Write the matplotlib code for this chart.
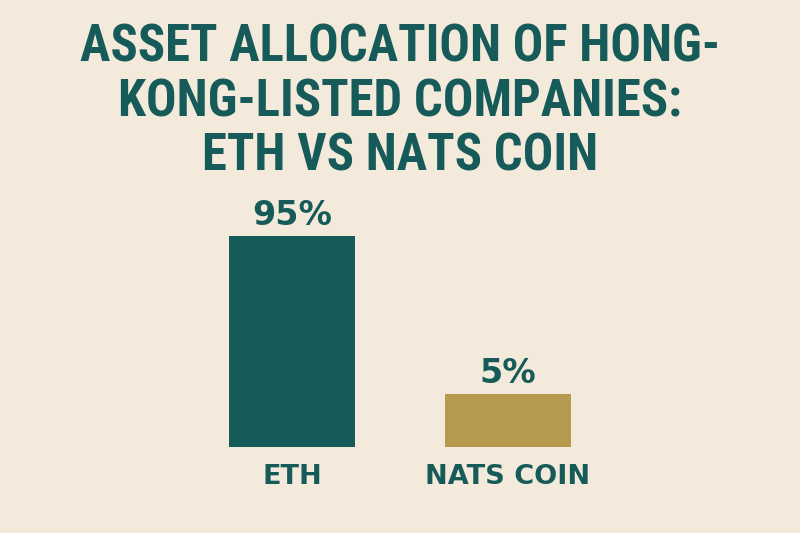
import matplotlib
matplotlib.use("Agg")
import matplotlib.pyplot as plt

# data
assets = ["ETH", "NATS COIN"]
shares = [95, 5]
labels = ["95%", "5%"]
colors = ["#165b59", "#b59a4f"]
title = "ASSET ALLOCATION OF HONG-\nKONG-LISTED COMPANIES:\nETH VS NATS COIN"

bg = "#f4eadb"
teal = "#165b59"
base = 1.86  # log axis floor, keeps the bar proportions of the original

fig = plt.figure(figsize=(8, 5.33), dpi=100, facecolor=bg)
ax = fig.add_axes([0, 86 / 533, 1, 211 / 533])
ax.set_facecolor(bg)
ax.set_yscale("log")

x = list(range(len(assets)))
bars = ax.bar(x, [s - base for s in shares], bottom=base, width=0.58, color=colors)
ax.set_ylim(base, 95)
ax.set_xlim(-292 / 216, -292 / 216 + 800 / 216)

for b, lab in zip(bars, labels):
    ax.annotate(lab, (b.get_x() + b.get_width() / 2, b.get_y() + b.get_height()),
                xytext=(0, 3), textcoords="offset points", ha="center", va="bottom",
                fontsize=24, fontweight="bold", color=teal, family="DejaVu Sans")

ax.set_xticks(x)
ax.set_xticklabels(assets, fontsize=19.5, fontweight="bold", color=teal, family="DejaVu Sans")
ax.tick_params(axis="x", length=0, pad=12)
ax.set_yticks([])
ax.minorticks_off()
ax.yaxis.set_tick_params(which="both", length=0, labelleft=False)
for s in ax.spines.values():
    s.set_visible(False)

fig.text(0.5, 1 - 102 / 533, title, ha="center", va="center", fontsize=36.5,
         fontweight="bold", color=teal, linespacing=1.12,
         family=["Roboto Condensed", "Liberation Sans Narrow", "Roboto", "DejaVu Sans"])

fig.savefig("out.png", dpi=100, facecolor=bg)
